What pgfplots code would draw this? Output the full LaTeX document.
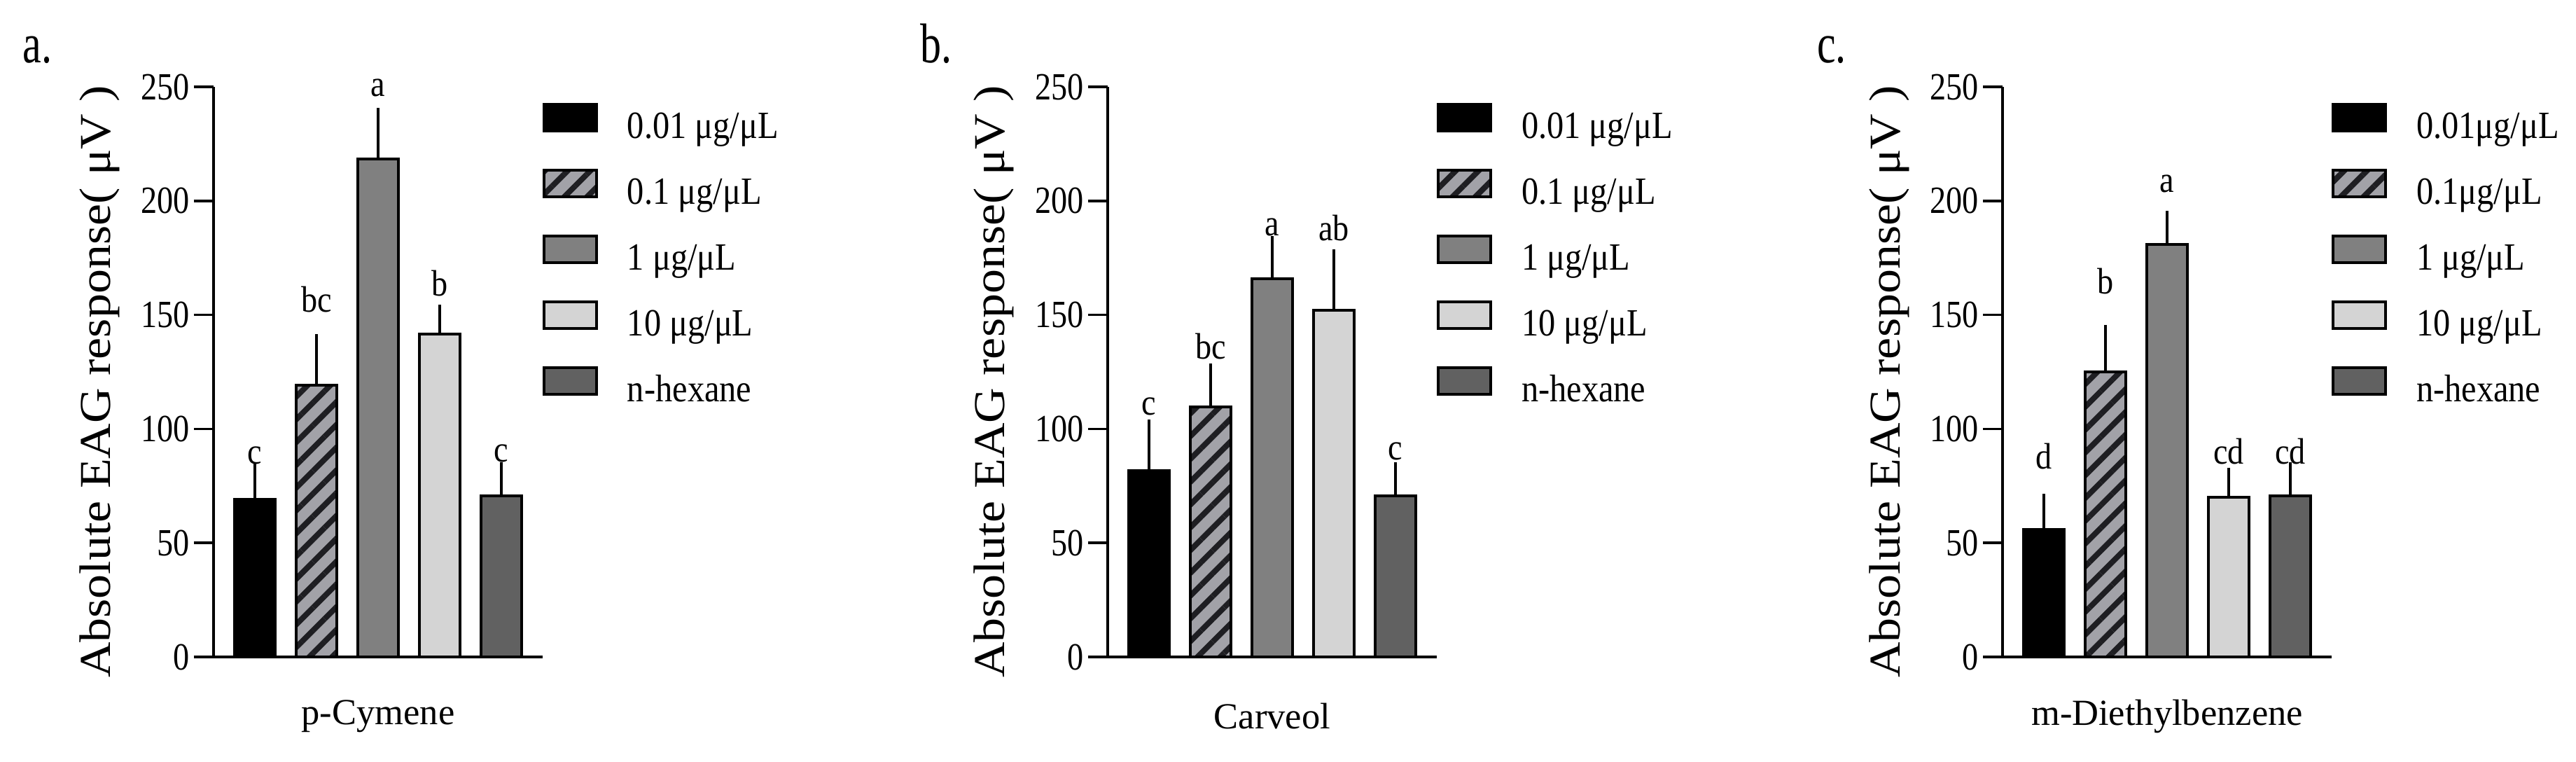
\documentclass[border=0pt]{standalone}
\usepackage{graphicx}
\usepackage{pgfplots}
\pgfplotsset{compat=1.18}
\usepackage{fontspec}
\setmainfont{Liberation Serif}
\newfontfamily\condA{Liberation Serif}[FakeStretch=0.84]
\newfontfamily\condB{Liberation Serif}[FakeStretch=0.88]
\newfontfamily\condC{Liberation Serif}[FakeStretch=0.75]
\usetikzlibrary{patterns.meta}
\definecolor{cA}{HTML}{000000}
\definecolor{cB}{HTML}{A2A2A8}
\definecolor{cBs}{HTML}{1E1E22}
\definecolor{cC}{HTML}{808080}
\definecolor{cD}{HTML}{D4D4D4}
\definecolor{cE}{HTML}{616161}
\tikzset{
  letter/.style={font=\condB\fontsize{10.5}{12}\selectfont, anchor=base, inner sep=0pt},
  plabel/.style={font=\condC\fontsize{16}{18}\selectfont, anchor=base west, inner sep=0pt},
}
\pgfplotsset{
  mylegend/.style={legend image code/.code={\draw[##1] (0pt,-0.3pt) rectangle (15pt,7.3pt);}},
  barbase/.style={draw=black, line width=0.8pt, mylegend,
    error bars/y dir=plus, error bars/y explicit,
    error bars/error bar style={line width=0.8pt, black},
    error bars/error mark options={line width=0.8pt, black, mark size=2.9pt}},
  s1/.style={barbase, fill=cA},
  s2/.style={barbase, fill=cB, postaction={pattern={Lines[angle=45,distance=4.6pt,line width=1.6pt]}, pattern color=cBs}},
  s3/.style={barbase, fill=cC},
  s4/.style={barbase, fill=cD},
  s5/.style={barbase, fill=cE},
  panel/.style={
    scale only axis, width=94pt, height=162.8pt,
    anchor=south west,
    ybar, bar width=11.6pt, bar shift=0pt,
    xmin=-0.67, xmax=4.67, ymin=0, ymax=250,
    axis x line*=bottom, axis y line*=left,
    axis line style={line width=0.7pt, -},
    xtick=\empty,
    ytick={0,50,100,150,200,250},
    major tick style={line width=0.7pt, black},
    tick align=outside, major tick length=5.6pt,
    /pgf/number format/assume math mode=true,
    yticklabel style={font=\condA\fontsize{11}{12}\selectfont, inner sep=1pt},
    clip=false,
    xlabel style={font=\fontsize{10.5}{12}\selectfont, at={(axis description cs:0.5,-0.104)}, anchor=center},
    ylabel style={font=\fontsize{14}{16}\selectfont, at={(axis description cs:-0.345,0.483)}, anchor=center},
    ylabel={\scalebox{1}[0.9]{Absolute EAG response( μV )}},
    legend cell align=left,
    legend style={draw=none, fill=none, inner sep=0pt, outer sep=0pt,
      at={(rel axis cs:1.0,0.972)}, anchor=north west,
      font=\condB\fontsize{11}{12}\selectfont,
      nodes={inner sep=0pt, text height=7.5pt, text depth=2.5pt},
      row sep=6.1pt,
      /tikz/every odd column/.append style={column sep=8.4pt}},
  },
}
\begin{document}
\begin{tikzpicture}
\useasboundingbox (0,0) rectangle (735.8pt,217.4pt);
% panel a
\begin{axis}[panel, at={(61pt,29.8pt)}, xlabel={p-Cymene}]
\addplot[s1] coordinates {(0,69.2) +- (0,11.5)};
\addplot[s2] coordinates {(1,119.2) +- (0,17.8)};
\addplot[s3] coordinates {(2,218.4) +- (0,17.8)};
\addplot[s4] coordinates {(3,141.7) +- (0,8.3)};
\addplot[s5] coordinates {(4,70.7) +- (0,10.2)};
\legend{0.01 μg/μL, 0.1 μg/μL, 1 μg/μL, 10 μg/μL, n-hexane}
\node[letter] at (axis cs:0,84.7) {c};
\node[letter] at (axis cs:1,151.2) {bc};
\node[letter] at (axis cs:2,245.8) {a};
\node[letter] at (axis cs:3,158.2) {b};
\node[letter] at (axis cs:4,85.4) {c};
\node[plabel] at (rel axis cs:-0.581,1.042) {a.};
\end{axis}
% panel b
\begin{axis}[panel, at={(316.4pt,29.8pt)}, xlabel={Carveol}]
\addplot[s1] coordinates {(0,81.8) +- (0,18.0)};
\addplot[s2] coordinates {(1,109.8) +- (0,14.5)};
\addplot[s3] coordinates {(2,165.9) +- (0,14.2)};
\addplot[s4] coordinates {(3,151.9) +- (0,22.3)};
\addplot[s5] coordinates {(4,70.7) +- (0,10.2)};
\legend{0.01 μg/μL, 0.1 μg/μL, 1 μg/μL, 10 μg/μL, n-hexane}
\node[letter] at (axis cs:0,106.0) {c};
\node[letter] at (axis cs:1,130.6) {bc};
\node[letter] at (axis cs:2,184.8) {a};
\node[letter] at (axis cs:3,182.7) {ab};
\node[letter] at (axis cs:4,86.4) {c};
\node[plabel] at (rel axis cs:-0.572,1.042) {b.};
\end{axis}
% panel c
\begin{axis}[panel, at={(572pt,29.8pt)}, xlabel={m-Diethylbenzene}]
\addplot[s1] coordinates {(0,55.9) +- (0,11.2)};
\addplot[s2] coordinates {(1,125.1) +- (0,16.1)};
\addplot[s3] coordinates {(2,180.8) +- (0,10.4)};
\addplot[s4] coordinates {(3,69.9) +- (0,8.7)};
\addplot[s5] coordinates {(4,70.7) +- (0,10.2)};
\legend{0.01μg/μL, 0.1μg/μL, 1 μg/μL, 10 μg/μL, n-hexane}
\node[letter] at (axis cs:0,82.6) {d};
\node[letter] at (axis cs:1,159.1) {b};
\node[letter] at (axis cs:2,203.9) {a};
\node[letter] at (axis cs:3,84.7) {cd};
\node[letter] at (axis cs:4,84.7) {cd};
\node[plabel] at (rel axis cs:-0.566,1.042) {c.};
\end{axis}
\end{tikzpicture}
\end{document}
